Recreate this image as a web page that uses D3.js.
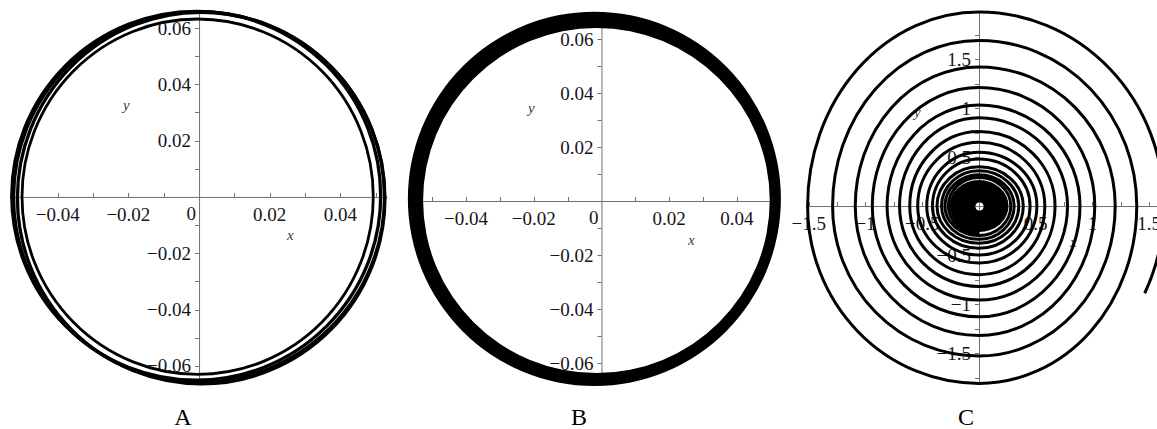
<!DOCTYPE html>
<html>
<head>
<meta charset="utf-8">
<script src="https://cdn.jsdelivr.net/npm/d3@7/dist/d3.min.js"></script>
<style>
body { margin: 0; background: #fff; }
svg { display: block; }
text { font-family: "Liberation Serif", "DejaVu Serif", serif; }
</style>
</head>
<body>
<svg width="1157" height="429"></svg>
<script>
// ---- data ----

// A: a few nearly closed loops (centre, half width, half height)
var loopsA = [
    {cx: 0.0000, cy: 0.0000, rx: 0.0525, ry: 0.0658},
    {cx: -0.0008, cy: 0.0004, rx: 0.0522, ry: 0.0655},
    {cx: 0.0006, cy: -0.0004, rx: 0.0520, ry: 0.0660},
    {cx: -0.0004, cy: 0.0001, rx: 0.0497, ry: 0.0631}
];

// B: outer and inner edge of the dense band of loops
var bandB = [
    {cx: -0.0021, cy: 0.0008, rx: 0.0551, ry: 0.0693},
    {cx: -0.0015, cy: 0.0002, rx: 0.0512, ry: 0.0639}
];

// C: spiral, where it crosses the axes (right, top, left, bottom, turn by turn)
var cRight  = [1.63, 1.39, 1.20, 1.02, 0.89, 0.78, 0.67, 0.58, 0.51, 0.45, 0.39, 0.35, 0.31, 0.28];
var cTop    = [1.98, 1.69, 1.42, 1.21, 1.03, 0.90, 0.76, 0.65, 0.55, 0.48, 0.40, 0.36, 0.32, 0.29];
var cLeft   = [-1.51, -1.29, -1.09, -0.94, -0.81, -0.70, -0.61, -0.54, -0.46, -0.41, -0.37, -0.33, -0.30, -0.27];
var cBottom = [-1.81, -1.53, -1.32, -1.13, -0.96, -0.82, -0.70, -0.58, -0.50, -0.43, -0.38, -0.34, -0.30, -0.27];
var cStart = [1.46, -0.89];
var cCore = {rx: 0.26, ry: 0.265};

// tick labels
var abTicksX = [-0.04, -0.02, 0.02, 0.04];
var abTicksY = [-0.06, -0.04, -0.02, 0.02, 0.04, 0.06];
var cTicksX = [-1.5, -1, -0.5, 0.5, 1, 1.5];
var cTicksY = [-1.5, -1, -0.5, 0.5, 1, 1.5];
var captions = ["A", "B", "C"];

// ---- drawing ----
var svg = d3.select("svg");
var INK = "#000";

function fmt(d) {
    return (d < 0 ? "\u2212" : "") + Math.abs(d);
}

function drawAxes(g, x, y, labX, labY, minor, zero) {
    var xd = x.domain(), yd = y.domain();
    var ax = g.append("g").attr("stroke", "#707070").attr("stroke-width", 1);
    ax.append("line").attr("x1", x(xd[0])).attr("x2", x(xd[1])).attr("y1", y(0) + 0.5).attr("y2", y(0) + 0.5);
    ax.append("line").attr("x1", x(0) + 0.5).attr("x2", x(0) + 0.5).attr("y1", y(yd[0])).attr("y2", y(yd[1]));

    var tx = d3.range(Math.ceil(xd[0] / minor), Math.floor(xd[1] / minor) + 1).map(function(i) { return i * minor; });
    var ty = d3.range(Math.ceil(yd[0] / minor), Math.floor(yd[1] / minor) + 1).map(function(i) { return i * minor; });
    ax.selectAll(".tx").data(tx.filter(function(d) { return Math.abs(d) > 1e-9; })).enter().append("line")
        .attr("x1", function(d) { return Math.round(x(d)) + 0.5; })
        .attr("x2", function(d) { return Math.round(x(d)) + 0.5; })
        .attr("y1", y(0) - 4).attr("y2", y(0));
    ax.selectAll(".ty").data(ty.filter(function(d) { return Math.abs(d) > 1e-9; })).enter().append("line")
        .attr("y1", function(d) { return Math.round(y(d)) + 0.5; })
        .attr("y2", function(d) { return Math.round(y(d)) + 0.5; })
        .attr("x1", x(0) - 4).attr("x2", x(0));

    var lab = g.append("g").attr("fill", "#151520").attr("font-size", 19);
    lab.selectAll(".lx").data(labX).enter().append("text")
        .attr("x", function(d) { return x(d); })
        .attr("y", y(0) + 24)
        .attr("text-anchor", "middle")
        .text(fmt);
    lab.selectAll(".ly").data(labY).enter().append("text")
        .attr("x", x(0) - 8)
        .attr("y", function(d) { return y(d) + 6.5; })
        .attr("text-anchor", "end")
        .text(fmt);
    if (zero) {
        lab.append("text").attr("x", x(0) - 3).attr("y", y(0) + 23)
            .attr("text-anchor", "end").text("0");
    }
}

function axisNames(g, xPos, yPos) {
    var t = g.append("g").attr("fill", "#3a3a55").attr("font-size", 15).attr("font-style", "italic");
    t.append("text").attr("x", xPos[0]).attr("y", xPos[1]).text("x");
    t.append("text").attr("x", yPos[0]).attr("y", yPos[1]).text("y");
}

// --- A ---
var xA = d3.scaleLinear().domain([-0.0535, 0.0533]).range([10, 387.4]);
var yA = d3.scaleLinear().domain([-0.0668, 0.0664]).range([385, 10]);
var gA = svg.append("g");
drawAxes(gA, xA, yA, abTicksX, abTicksY, 0.01, true);
axisNames(gA, [287, 240], [123, 110]);
gA.selectAll("ellipse").data(loopsA).enter().append("ellipse")
    .attr("cx", function(d) { return xA(d.cx); })
    .attr("cy", function(d) { return yA(d.cy); })
    .attr("rx", function(d) { return xA(d.rx) - xA(0); })
    .attr("ry", function(d) { return yA(0) - yA(d.ry); })
    .attr("fill", "none").attr("stroke", INK)
    .attr("stroke-width", function(d, i) { return i === loopsA.length - 1 ? 2.8 : 3.3; });

// --- B ---
var xB = d3.scaleLinear().domain([-0.0571, 0.0530]).range([408.2, 780.9]);
var yB = d3.scaleLinear().domain([-0.0685, 0.0700]).range([386, 12]);
var gB = svg.append("g");
drawAxes(gB, xB, yB, abTicksX, abTicksY, 0.01, true);
axisNames(gB, [688, 245], [528, 113]);
function ellipsePath(x, y, e) {
    var cx = x(e.cx), cy = y(e.cy), rx = x(e.rx) - x(0), ry = y(0) - y(e.ry);
    return "M" + (cx - rx) + "," + cy +
        "A" + rx + "," + ry + " 0 1 0 " + (cx + rx) + "," + cy +
        "A" + rx + "," + ry + " 0 1 0 " + (cx - rx) + "," + cy + "Z";
}
gB.append("path")
    .attr("d", bandB.map(function(e) { return ellipsePath(xB, yB, e); }).join(""))
    .attr("fill", INK).attr("fill-rule", "evenodd");

// --- C ---
var xC = d3.scaleLinear().domain([-1.51, 1.63]).range([807.6, 1164]);
var yC = d3.scaleLinear().domain([-1.82, 1.98]).range([384.4, 12]);
var gC = svg.append("g");
drawAxes(gC, xC, yC, cTicksX, cTicksY, 0.25, false);
axisNames(gC, [1070, 247], [914, 117]);

var pts = [];
cRight.forEach(function(r, i) {
    pts.push([r, 0], [0, cTop[i]], [cLeft[i], 0], [0, cBottom[i]]);
});
var ox = xC(0), oy = yC(0);
var r0 = xC(pts[0][0]) - ox;
var sdx = xC(cStart[0]) - ox, sdy = yC(cStart[1]) - oy;
var sry = Math.abs(sdy) / Math.sqrt(1 - (sdx / r0) * (sdx / r0));
var d = "M" + xC(cStart[0]) + "," + yC(cStart[1]) +
    "A" + r0 + "," + sry + " 0 0 0 " + xC(pts[0][0]) + "," + oy;
for (var i = 1; i < pts.length; i++) {
    var a = pts[i - 1], b = pts[i];
    var onX = a[1] === 0;
    var rx = Math.abs(xC(onX ? a[0] : b[0]) - ox);
    var ry = Math.abs(yC(onX ? b[1] : a[1]) - oy);
    d += "A" + rx + "," + ry + " 0 0 0 " + xC(b[0]) + "," + yC(b[1]);
}
gC.append("ellipse")
    .attr("cx", ox).attr("cy", oy)
    .attr("rx", xC(cCore.rx) - ox).attr("ry", oy - yC(cCore.ry))
    .attr("fill", INK);
gC.append("path").attr("d", d)
    .attr("fill", "none").attr("stroke", INK).attr("stroke-width", 3);
gC.append("circle").attr("cx", ox + 0.5).attr("cy", oy + 0.5).attr("r", 4).attr("fill", "#fff");
gC.append("line").attr("x1", ox - 4).attr("x2", ox + 5).attr("y1", oy + 0.5).attr("y2", oy + 0.5)
    .attr("stroke", "#707070");
gC.append("line").attr("y1", oy - 4).attr("y2", oy + 5).attr("x1", ox + 0.5).attr("x2", ox + 0.5)
    .attr("stroke", "#707070");

// captions
svg.append("g").attr("font-size", 24).attr("fill", "#000")
    .selectAll("text").data(captions).enter().append("text")
    .attr("x", function(d, i) { return [183, 579, 966][i]; })
    .attr("y", 425)
    .attr("text-anchor", "middle")
    .text(function(d) { return d; });
</script>
</body>
</html>
